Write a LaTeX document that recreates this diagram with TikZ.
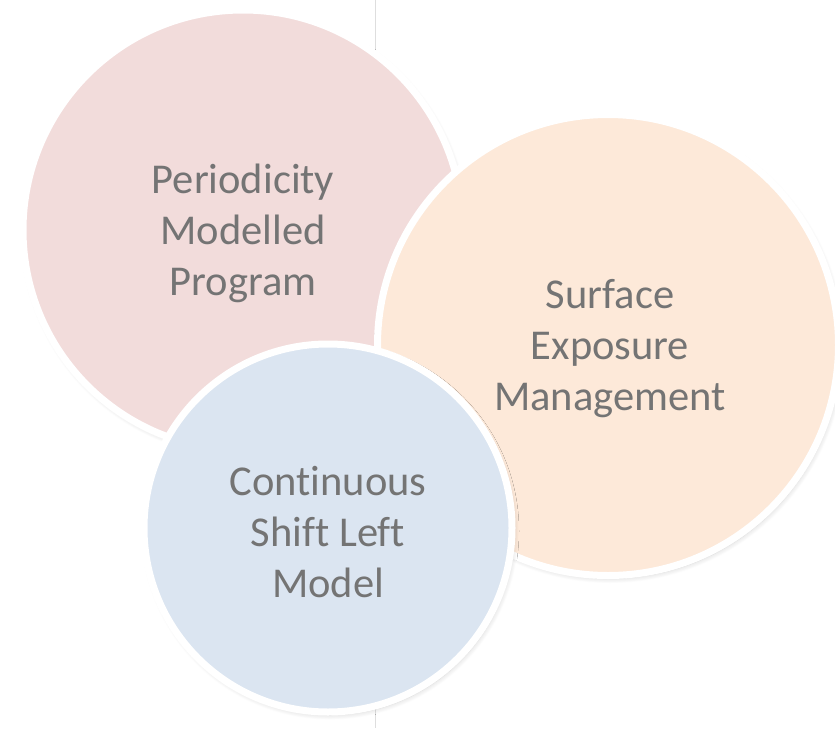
\documentclass[tikz,border=0pt]{standalone}
\usepackage{fontspec}
\setmainfont[RawFeature={-liga}]{Carlito}
\usetikzlibrary{shadows.blur}
\definecolor{pinkfill}{HTML}{F2DCDB}
\definecolor{peachfill}{HTML}{FDE9D9}
\definecolor{bluefill}{HTML}{DBE5F1}
\definecolor{txtgray}{RGB}{116,116,116}
\definecolor{linegray}{RGB}{222,222,222}
\tikzset{
  bubble/.style={circle, inner sep=0pt, draw=white, line width=7pt,
    blur shadow={shadow xshift=2pt, shadow yshift=-3pt, shadow blur radius=5pt, shadow blur steps=12, shadow opacity=18}},
  bubbletext/.style={inner sep=0pt, text=txtgray, align=center, font=\fontsize{42.5}{51}\selectfont},
}
\begin{document}
\begin{tikzpicture}[x=1pt, y=-1pt]
\useasboundingbox (0,0) rectangle (835,728);
\coordinate (ltop) at (375.5,0);
\coordinate (lbot) at (375.5,728);
\draw[linegray, line width=1pt] (ltop) -- (lbot);
\node[bubble, fill=pinkfill, minimum size=440pt] (pmp) at (243,230) {};
\node[bubbletext] (pmpt) at ([yshift=-3pt]pmp.center) {Periodicity\\Modelled\\Program};
\node[bubble, fill=peachfill, minimum size=461pt] (sem) at (608,345) {};
\node[bubbletext] (semt) at ([xshift=2pt,yshift=-4pt]sem.center) {Surface\\Exposure\\Management};
\node[bubble, fill=bluefill, minimum size=368pt] (csl) at (328,528) {};
\node[bubbletext] (cslt) at ([yshift=-4pt]csl.center) {Continuous\\Shift Left\\Model};
\end{tikzpicture}
\end{document}
